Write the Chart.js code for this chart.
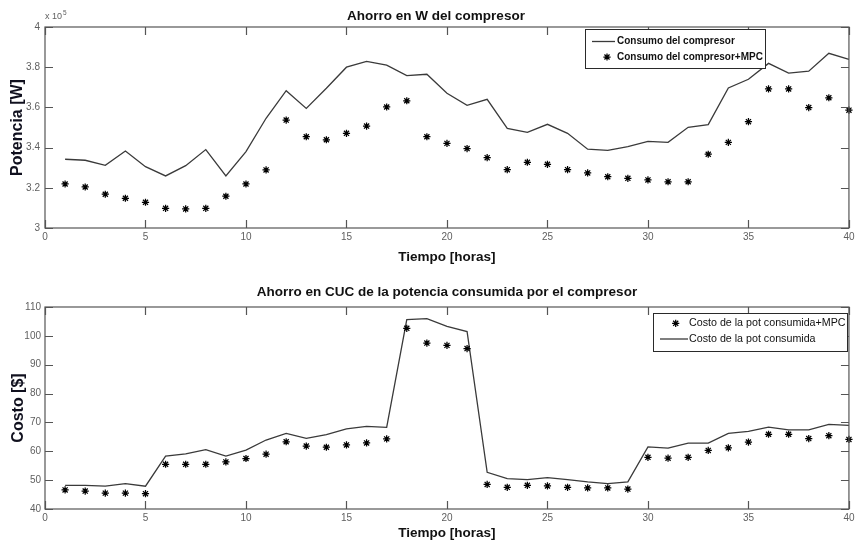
<!DOCTYPE html>
<html><head><meta charset="utf-8">
<script src="https://cdn.jsdelivr.net/npm/chart.js@4.4.1/dist/chart.umd.min.js"></script>
<style>
html,body{margin:0;padding:0;background:#fff;}
#wrap{position:relative;width:858px;height:546px;overflow:hidden;}
#c1{position:absolute;left:0;top:0;}
#c2{position:absolute;left:0;top:272px;}
</style></head><body>
<div id="wrap">
<canvas id="c1" width="858" height="272"></canvas>
<canvas id="c2" width="858" height="274"></canvas>
</div>
<script>
// ---- data ----
const hours = [1,2,3,4,5,6,7,8,9,10,11,12,13,14,15,16,17,18,19,20,21,22,23,24,25,26,27,28,29,30,31,32,33,34,35,36,37,38,39,40];
// Potencia [W]
const consumo = [334200,333700,331200,338300,330500,325900,331000,339000,325900,338000,354600,368300,359500,369500,380000,382900,381000,375800,376500,367000,361000,364000,349600,347600,351600,347100,339200,338600,340500,343100,342600,350100,351400,369700,374000,381900,377100,378000,386900,383900];
const consumoMPC = [321900,320400,316800,314800,312800,309800,309500,309800,315800,321900,328900,353700,345400,343900,347100,350700,360200,363300,345400,342100,339500,335000,329000,332700,331700,329000,327400,325500,324700,323900,323000,323000,336700,342600,352900,369200,369200,359900,364800,358600];
// Costo [$]
const costo = [48.2,48.2,47.9,48.8,47.9,58.3,59.1,60.6,58.3,60.4,63.9,66.2,64.5,65.8,67.8,68.6,68.3,105.6,106.0,103.3,101.5,52.7,50.5,50.2,50.9,50.2,49.4,48.8,49.4,61.5,61.1,62.8,62.8,66.2,66.9,68.4,67.4,67.4,69.3,69.0];
const costoMPC = [46.6,46.2,45.5,45.5,45.3,55.5,55.5,55.5,56.3,57.5,59.0,63.3,61.8,61.4,62.2,62.9,64.3,102.6,97.5,96.7,95.6,48.5,47.5,48.2,48.0,47.5,47.3,47.3,46.9,57.9,57.6,57.9,60.3,61.2,63.2,65.9,65.9,64.4,65.4,64.1];
// ticks
const xTicks = [0,5,10,15,20,25,30,35,40];
const potTicks = [300000,320000,340000,360000,380000,400000];
const costoTicks = [40,50,60,70,80,90,100,110];
const potMultiplier = 100000;

const FONT = "'Liberation Sans',Arial,Helvetica,sans-serif";
const TICKCOL = '#606060';
const TXT = '#111111';
const YTITLE = '#10101e';

const toXY = (xs, ys) => xs.map((x, i) => ({x: x, y: ys[i]}));

const framePlugin = {
  id: 'frame',
  afterDatasetsDraw(chart, args, o) {
    const {ctx, chartArea: a, scales} = chart;
    ctx.save();
    ctx.strokeStyle = o.color; ctx.lineWidth = o.width;
    const L = o.tick;
    ctx.beginPath();
    scales.x.ticks.forEach(t => {
      const p = Math.round(scales.x.getPixelForValue(t.value)) + 0.5;
      ctx.moveTo(p, a.bottom); ctx.lineTo(p, a.bottom - L);
      ctx.moveTo(p, a.top); ctx.lineTo(p, a.top + L);
    });
    scales.y.ticks.forEach(t => {
      const p = Math.round(scales.y.getPixelForValue(t.value)) + 0.5;
      ctx.moveTo(a.left, p); ctx.lineTo(a.left + L, p);
      ctx.moveTo(a.right, p); ctx.lineTo(a.right - L, p);
    });
    ctx.stroke();
    ctx.strokeRect(a.left, a.top, a.right - a.left, a.bottom - a.top);
    if (o.multiplier) {
      ctx.fillStyle = TICKCOL;
      ctx.textBaseline = 'middle';
      ctx.font = "9px " + FONT;
      ctx.fillText('x 10', o.multiplier.x, o.multiplier.y);
      const w = ctx.measureText('x 10').width;
      ctx.font = "6.5px " + FONT;
      ctx.fillText(o.multiplier.exp, o.multiplier.x + w + 1, o.multiplier.y - 4);
    }
    ctx.restore();
  }
};

const legendPlugin = {
  id: 'boxLegend',
  afterDraw(chart, args, o) {
    const ctx = chart.ctx;
    ctx.save();
    ctx.fillStyle = '#fff';
    ctx.fillRect(o.x, o.y, o.w, o.h);
    ctx.strokeStyle = '#2a2a2a'; ctx.lineWidth = 1;
    ctx.strokeRect(o.x + 0.5, o.y + 0.5, o.w, o.h);
    ctx.font = o.font;
    ctx.textBaseline = 'middle';
    chart.data.datasets.forEach((ds, i) => {
      const ry = o.rows[i];
      if (ds.pointRadius === 0) {
        ctx.strokeStyle = ds.borderColor; ctx.lineWidth = ds.borderWidth;
        ctx.beginPath(); ctx.moveTo(o.lineX0, ry); ctx.lineTo(o.lineX1, ry); ctx.stroke();
      } else {
        ctx.strokeStyle = ds.pointBorderColor; ctx.fillStyle = ds.pointBorderColor;
        ctx.lineWidth = ds.pointBorderWidth;
        Chart.helpers.drawPoint(ctx, {pointStyle: ds.pointStyle, radius: ds.pointRadius, rotation: 0, borderWidth: ds.pointBorderWidth}, o.markX, ry);
      }
      ctx.fillStyle = TXT;
      ctx.fillText(ds.label, o.textX, ry);
    });
    ctx.restore();
  }
};

function lineDs(label, xs, ys) {
  return {label, data: toXY(xs, ys), showLine: true, borderColor: '#3a3a3a', borderWidth: 1.3,
    pointRadius: 0, pointHoverRadius: 0, tension: 0, fill: false, clip: false};
}
function starDs(label, xs, ys) {
  return {label, data: toXY(xs, ys), showLine: false, pointStyle: 'star', pointRadius: 3.6,
    pointBorderColor: '#000', pointBackgroundColor: '#000', pointBorderWidth: 1.25, borderColor: '#000', clip: false};
}

function xScale(height, titlePadBottom) {
  return {
    type: 'linear', position: 'bottom', min: 0, max: 40,
    afterBuildTicks: s => { s.ticks = xTicks.map(v => ({value: v})); },
    afterFit: s => { s.height = height; },
    ticks: {font: {family: FONT, size: 10}, color: TICKCOL, padding: 3.5, maxRotation: 0, autoSkip: false},
    grid: {display: false, drawTicks: false},
    border: {display: false},
    title: {display: true, text: 'Tiempo [horas]', color: TXT,
      font: {family: FONT, size: 13.5, weight: 'bold', lineHeight: 1.2}, padding: {top: 0, bottom: titlePadBottom}}
  };
}

// ---- top chart ----
new Chart(document.getElementById('c1'), {
  type: 'scatter',
  data: {datasets: [
    lineDs('Consumo del compresor', hours, consumo),
    starDs('Consumo del compresor+MPC', hours, consumoMPC)
  ]},
  options: {
    responsive: false, animation: false, devicePixelRatio: 1,
    layout: {padding: {left: 20, right: 6, top: 0, bottom: 0}},
    plugins: {
      legend: {display: false}, tooltip: {enabled: false},
      title: {display: true, text: 'Ahorro en W del compresor', color: TXT, fullSize: true,
        font: {family: FONT, size: 13.5, weight: 'bold', lineHeight: 1.2}, padding: {top: 7.9, bottom: 2.9}},
      frame: {color: '#555', width: 1.2, tick: 8, multiplier: {x: 45, y: 17, exp: '5'}},
      boxLegend: {x: 585, y: 29, w: 180, h: 39, rows: [41.5, 57], lineX0: 592, lineX1: 615, markX: 607, textX: 617,
        font: "bold 10px " + FONT}
    },
    scales: {
      x: xScale(44, 6.9),
      y: {
        type: 'linear', min: potTicks[0], max: potTicks[potTicks.length - 1],
        afterBuildTicks: s => { s.ticks = potTicks.map(v => ({value: v})); },
        afterFit: s => { s.width = 25; },
        ticks: {font: {family: FONT, size: 10}, color: TICKCOL, padding: 5,
          callback: v => String(Number((v / potMultiplier).toFixed(1)))},
        grid: {display: false, drawTicks: false},
        border: {display: false},
        title: {display: true, text: 'Potencia [W]', color: YTITLE,
          font: {family: FONT, size: 16, weight: 'bold', lineHeight: 1.2}, padding: {top: -12.1, bottom: 0}}
      }
    }
  },
  plugins: [framePlugin, legendPlugin]
});

// ---- bottom chart ----
new Chart(document.getElementById('c2'), {
  type: 'scatter',
  data: {datasets: [
    starDs('Costo de la pot consumida+MPC', hours, costoMPC),
    lineDs('Costo de la pot consumida', hours, costo)
  ]},
  options: {
    responsive: false, animation: false, devicePixelRatio: 1,
    layout: {padding: {left: 0, right: 6, top: 0, bottom: 0}},
    plugins: {
      legend: {display: false}, tooltip: {enabled: false},
      title: {display: true, text: 'Ahorro en CUC de la potencia consumida por el compresor', color: TXT, fullSize: false,
        font: {family: FONT, size: 13.5, weight: 'bold', lineHeight: 1.2}, padding: {top: 12.4, bottom: 6.4}},
      frame: {color: '#555', width: 1.2, tick: 8},
      boxLegend: {x: 653, y: 41, w: 194, h: 38, rows: [51.3, 67], lineX0: 660, lineX1: 688, markX: 675.7, textX: 689,
        font: "10.7px " + FONT}
    },
    scales: {
      x: xScale(37, 4.9),
      y: {
        type: 'linear', min: costoTicks[0], max: costoTicks[costoTicks.length - 1],
        afterBuildTicks: s => { s.ticks = costoTicks.map(v => ({value: v})); },
        afterFit: s => { s.width = 45; },
        ticks: {font: {family: FONT, size: 10}, color: TICKCOL, padding: 4},
        grid: {display: false, drawTicks: false},
        border: {display: false},
        title: {display: true, text: 'Costo [$]', color: YTITLE,
          font: {family: FONT, size: 16, weight: 'bold', lineHeight: 1.2}, padding: {top: 9.4, bottom: 0}}
      }
    }
  },
  plugins: [framePlugin, legendPlugin]
});
</script>
</body></html>
